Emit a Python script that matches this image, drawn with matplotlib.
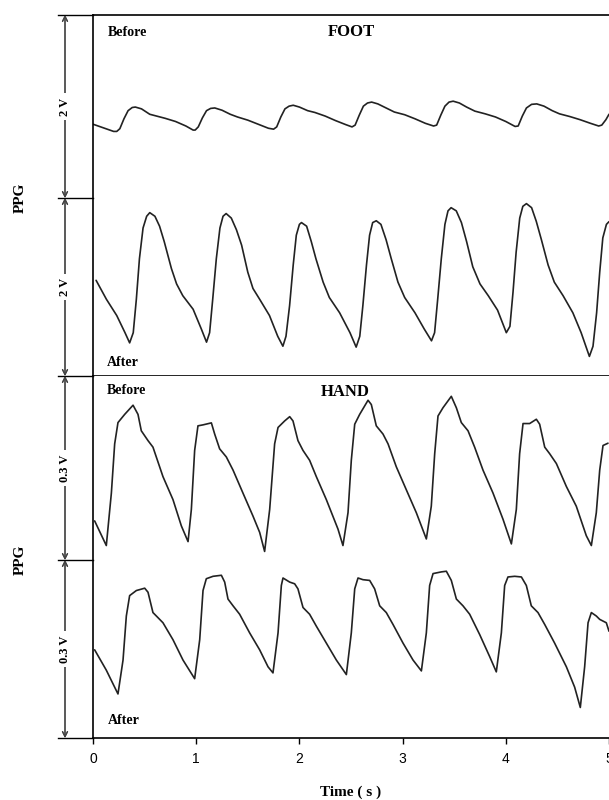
import matplotlib
matplotlib.use("Agg")
from matplotlib import pyplot as plt
from matplotlib.lines import Line2D

# time (s) and amplitude (V above the bottom of each strip)
foot_before_t = [0.00, 0.10, 0.20, 0.23, 0.26, 0.30, 0.34, 0.38, 0.41, 0.47, 0.55, 0.60, 0.70, 0.80, 0.90,
                 0.97, 0.99, 1.02, 1.06, 1.10, 1.14, 1.18, 1.25, 1.33, 1.40, 1.50, 1.60, 1.70, 1.75, 1.78,
                 1.82, 1.86, 1.90, 1.94, 2.00, 2.08, 2.15, 2.25, 2.35, 2.45, 2.51, 2.54, 2.58, 2.62, 2.66,
                 2.70, 2.76, 2.84, 2.92, 3.02, 3.12, 3.22, 3.30, 3.33, 3.37, 3.41, 3.45, 3.49, 3.55, 3.62,
                 3.70, 3.80, 3.90, 4.00, 4.09, 4.12, 4.16, 4.20, 4.25, 4.30, 4.37, 4.45, 4.52, 4.62, 4.72,
                 4.82, 4.90, 4.93, 4.97, 5.00]
foot_before_v = [0.79, 0.75, 0.71, 0.71, 0.74, 0.85, 0.94, 0.975, 0.98, 0.96, 0.90, 0.885, 0.855, 0.82, 0.77,
                 0.725, 0.725, 0.76, 0.86, 0.94, 0.965, 0.97, 0.945, 0.90, 0.87, 0.835, 0.79, 0.745, 0.735, 0.76,
                 0.87, 0.96, 0.99, 1.00, 0.98, 0.94, 0.92, 0.88, 0.83, 0.785, 0.76, 0.78, 0.89, 0.99, 1.025,
                 1.035, 1.015, 0.97, 0.925, 0.895, 0.85, 0.80, 0.77, 0.78, 0.89, 0.99, 1.035, 1.045, 1.025, 0.98,
                 0.935, 0.905, 0.87, 0.82, 0.765, 0.77, 0.88, 0.97, 1.01, 1.015, 0.99, 0.94, 0.905, 0.875, 0.84,
                 0.80, 0.77, 0.78, 0.84, 0.90]

foot_after_t = [0.03, 0.13, 0.23, 0.31, 0.355, 0.39, 0.42, 0.45, 0.485, 0.52, 0.55, 0.60, 0.645, 0.69, 0.76,
                0.81, 0.87, 0.97, 1.05, 1.10, 1.13, 1.16, 1.195, 1.23, 1.26, 1.29, 1.34, 1.39, 1.44, 1.50,
                1.55, 1.615, 1.71, 1.79, 1.84, 1.87, 1.905, 1.94, 1.97, 2.00, 2.02, 2.07, 2.115, 2.16, 2.23,
                2.29, 2.39, 2.49, 2.55, 2.585, 2.615, 2.65, 2.68, 2.71, 2.745, 2.79, 2.84, 2.89, 2.955, 3.02,
                3.12, 3.21, 3.28, 3.31, 3.34, 3.375, 3.41, 3.44, 3.47, 3.52, 3.57, 3.62, 3.68, 3.75, 3.83,
                3.92, 4.005, 4.04, 4.07, 4.10, 4.135, 4.165, 4.20, 4.25, 4.295, 4.345, 4.41, 4.47, 4.555, 4.65,
                4.73, 4.81, 4.845, 4.88, 4.91, 4.94, 4.975, 5.00]
foot_after_v = [1.06, 0.85, 0.67, 0.48, 0.367, 0.48, 0.85, 1.30, 1.64, 1.77, 1.81, 1.77, 1.66, 1.49, 1.19,
                1.02, 0.89, 0.74, 0.52, 0.375, 0.48, 0.85, 1.30, 1.64, 1.77, 1.80, 1.75, 1.62, 1.45, 1.15,
                0.97, 0.85, 0.67, 0.44, 0.33, 0.44, 0.78, 1.23, 1.56, 1.68, 1.70, 1.66, 1.49, 1.30, 1.04,
                0.87, 0.70, 0.48, 0.32, 0.44, 0.78, 1.23, 1.56, 1.70, 1.72, 1.68, 1.51, 1.30, 1.04, 0.87,
                0.70, 0.52, 0.39, 0.48, 0.85, 1.30, 1.68, 1.83, 1.865, 1.83, 1.70, 1.49, 1.21, 1.02, 0.89,
                0.73, 0.48, 0.55, 0.93, 1.37, 1.75, 1.88, 1.91, 1.865, 1.715, 1.51, 1.23, 1.04, 0.89, 0.70,
                0.48, 0.217, 0.33, 0.70, 1.15, 1.53, 1.68, 1.71]

hand_before_t = [0.016, 0.129, 0.178, 0.210, 0.242, 0.307, 0.388, 0.436, 0.468, 0.533, 0.581, 0.678, 0.775,
                 0.856, 0.921, 0.953, 0.985, 1.017, 1.066, 1.147, 1.179, 1.227, 1.292, 1.357, 1.453, 1.550,
                 1.615, 1.663, 1.712, 1.760, 1.793, 1.857, 1.906, 1.938, 1.986, 2.035, 2.099, 2.164, 2.261,
                 2.374, 2.422, 2.471, 2.503, 2.536, 2.584, 2.665, 2.697, 2.745, 2.810, 2.859, 2.939, 3.036,
                 3.133, 3.230, 3.278, 3.311, 3.343, 3.391, 3.472, 3.521, 3.569, 3.634, 3.698, 3.779, 3.876,
                 3.973, 4.054, 4.102, 4.134, 4.167, 4.231, 4.296, 4.328, 4.377, 4.425, 4.490, 4.587, 4.683,
                 4.780, 4.829, 4.877, 4.910, 4.942, 4.990]
hand_before_v = [0.0598, 0.0190, 0.1060, 0.1875, 0.2228, 0.2364, 0.2516, 0.2364, 0.2092, 0.1929, 0.1821, 0.1332,
                 0.0951, 0.0516, 0.0255, 0.0788, 0.1766, 0.2174, 0.2190, 0.2223, 0.2038, 0.1793, 0.1658, 0.1440,
                 0.1060, 0.0679, 0.0408, 0.0092, 0.0788, 0.1875, 0.2147, 0.2255, 0.2326, 0.2255, 0.1929, 0.1766,
                 0.1603, 0.1332, 0.0951, 0.0462, 0.0190, 0.0734, 0.1603, 0.2201, 0.2364, 0.2598, 0.2527, 0.2174,
                 0.2038, 0.1875, 0.1495, 0.1114, 0.0734, 0.0299, 0.0842, 0.1712, 0.2337, 0.2473, 0.2663, 0.2473,
                 0.2228, 0.2092, 0.1821, 0.1440, 0.1060, 0.0625, 0.0217, 0.0788, 0.1712, 0.2212, 0.2212, 0.2283,
                 0.2201, 0.1821, 0.1712, 0.1549, 0.1168, 0.0842, 0.0353, 0.0190, 0.0734, 0.1440, 0.1848, 0.1886]

hand_after_t = [0.016, 0.129, 0.242, 0.291, 0.323, 0.355, 0.420, 0.501, 0.533, 0.581, 0.630, 0.678, 0.775,
                0.872, 0.985, 1.034, 1.066, 1.098, 1.163, 1.244, 1.276, 1.308, 1.357, 1.421, 1.518, 1.615,
                1.696, 1.744, 1.793, 1.825, 1.841, 1.906, 1.954, 1.986, 2.035, 2.099, 2.164, 2.261, 2.358,
                2.455, 2.503, 2.536, 2.568, 2.616, 2.681, 2.729, 2.778, 2.842, 2.907, 3.004, 3.101, 3.182,
                3.230, 3.262, 3.295, 3.375, 3.424, 3.472, 3.521, 3.585, 3.650, 3.747, 3.844, 3.908, 3.957,
                3.989, 4.021, 4.086, 4.151, 4.199, 4.247, 4.312, 4.377, 4.473, 4.587, 4.667, 4.722, 4.764,
                4.797, 4.829, 4.877, 4.910, 4.974, 5.000]
hand_after_v = [0.1461, 0.1124, 0.0730, 0.1292, 0.2022, 0.2360, 0.2444, 0.2483, 0.2416, 0.2079, 0.1994, 0.1910,
                0.1629, 0.1292, 0.0983, 0.1629, 0.2444, 0.2640, 0.2680, 0.2697, 0.2584, 0.2303, 0.2191, 0.2051,
                0.1742, 0.1461, 0.1180, 0.1079, 0.1742, 0.2528, 0.2652, 0.2584, 0.2556, 0.2472, 0.2163, 0.2051,
                0.1854, 0.1573, 0.1292, 0.1051, 0.1742, 0.2472, 0.2652, 0.2624, 0.2612, 0.2472, 0.2191, 0.2079,
                0.1882, 0.1573, 0.1292, 0.1112, 0.1742, 0.2528, 0.2725, 0.2753, 0.2764, 0.2612, 0.2303, 0.2191,
                0.2051, 0.1714, 0.1348, 0.1096, 0.1742, 0.2528, 0.2669, 0.2680, 0.2669, 0.2528, 0.2191, 0.2079,
                0.1882, 0.1573, 0.1180, 0.0843, 0.0506, 0.1180, 0.1910, 0.2079, 0.2022, 0.1966, 0.1910, 0.1770]

time_ticks = [0, 1, 2, 3, 4, 5]
foot_span = 2.0   # V per strip
hand_span = 0.3

serif = ['Liberation Serif', 'DejaVu Serif']
sans = ['Liberation Sans', 'DejaVu Sans']


def fx(px):
    return px / 609.0


def fy(py):
    return 1 - py / 800.0


def main():
    fig = plt.figure(figsize=(6.09, 8.0), dpi=100)
    ax_foot = fig.add_axes([fx(93), fy(376), fx(516), 361 / 800.0])
    ax_hand = fig.add_axes([fx(93), fy(738), fx(516), 362 / 800.0])

    line_kw = dict(color='#222222', lw=1.2, solid_joinstyle='round', solid_capstyle='round')
    ax_foot.plot(foot_before_t, [v + foot_span for v in foot_before_v], **line_kw)
    ax_foot.plot(foot_after_t, foot_after_v, **line_kw)
    ax_foot.set_ylim(0, 2 * foot_span)

    ax_hand.plot(hand_before_t, [v + hand_span for v in hand_before_v], **line_kw)
    ax_hand.plot(hand_after_t, hand_after_v, **line_kw)
    ax_hand.set_ylim(0, 2 * hand_span)

    for ax in (ax_foot, ax_hand):
        ax.set_xlim(0, 5)
        ax.spines['right'].set_visible(False)
        for s in ('left', 'top', 'bottom'):
            ax.spines[s].set_linewidth(1.2)
        ax.set_yticks([])
    ax_hand.spines['top'].set_visible(False)
    ax_foot.set_xticks([])
    ax_hand.set_xticks(time_ticks)
    ax_hand.tick_params(axis='x', direction='out', length=4, width=1, pad=6)
    for lab in ax_hand.get_xticklabels():
        lab.set_fontfamily(sans)
        lab.set_fontsize(10)
    ax_hand.set_xlabel('Time ( s )', family=serif, fontweight='bold', fontsize=11, labelpad=14)

    # scale bars on the left
    for py in [15, 198, 376, 560, 738]:
        fig.add_artist(Line2D([fx(58), fx(93)], [fy(py), fy(py)], color='black', lw=1.0))
    spans = [(15, 198, '2 V'), (198, 376, '2 V'), (376, 560, '0.3 V'), (560, 738, '0.3 V')]
    for top, bottom, label in spans:
        fig.add_artist(plt.annotate('', xy=(fx(65), fy(top)), xytext=(fx(65), fy(bottom)),
                                    xycoords='figure fraction',
                                    arrowprops=dict(arrowstyle='<->', color='#444444', lw=0.9,
                                                    shrinkA=0, shrinkB=0, mutation_scale=9)))
        fig.text(fx(65), fy((top + bottom) / 2), label, rotation=90, ha='center', va='center',
                 family=serif, fontweight='bold', fontsize=9,
                 bbox=dict(facecolor='white', edgecolor='none', pad=3))

    for py in [198, 560]:
        fig.text(fx(20), fy(py), 'PPG', rotation=90, ha='center', va='center',
                 family=serif, fontweight='bold', fontsize=11)

    fig.text(fx(108), fy(33), 'Before', ha='left', va='center', family=serif, fontweight='bold', fontsize=10)
    fig.text(fx(351), fy(32), 'FOOT', ha='center', va='center', family=serif, fontweight='bold', fontsize=12)
    fig.text(fx(107), fy(362), 'After', ha='left', va='center', family=serif, fontweight='bold', fontsize=10)
    fig.text(fx(107), fy(390), 'Before', ha='left', va='center', family=serif, fontweight='bold', fontsize=10)
    fig.text(fx(345), fy(392), 'HAND', ha='center', va='center', family=serif, fontweight='bold', fontsize=12)
    fig.text(fx(108), fy(720), 'After', ha='left', va='center', family=serif, fontweight='bold', fontsize=10)

    plt.savefig('out.png', dpi=100)
    plt.close()


if __name__ == "__main__":
    main()
